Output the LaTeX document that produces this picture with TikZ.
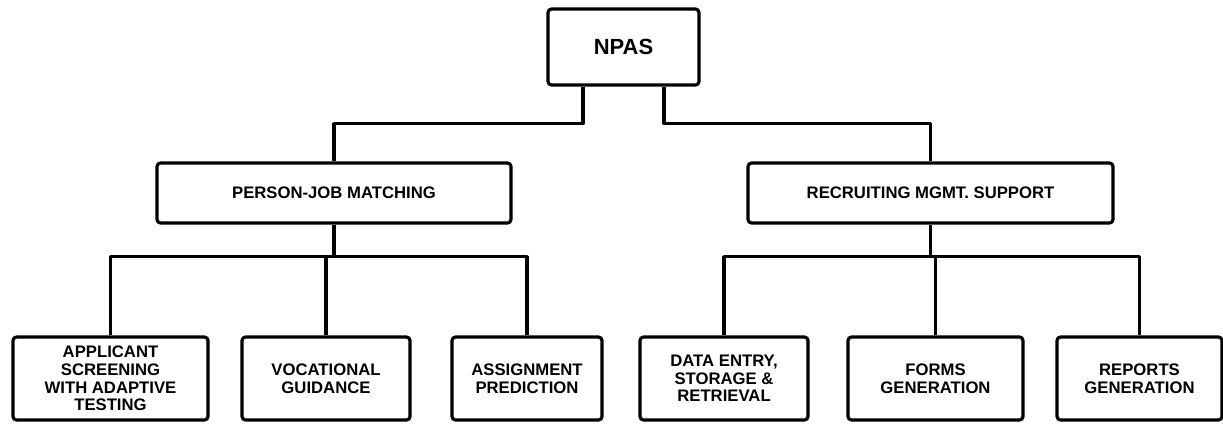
\documentclass[tikz,border=0pt]{standalone}
\usepackage{fontspec}
\setmainfont{Liberation Sans}
\usetikzlibrary{positioning}

\begin{document}
\begin{tikzpicture}[
    box/.style={rectangle, draw, line width=1.8pt, rounded corners=2pt, align=center, inner sep=2pt,
        font=\bfseries\fontsize{9.5}{10}\selectfont},
    link/.style={line width=1.8pt, line join=round}
]
\useasboundingbox (0,0) rectangle (24.46,-8.46);

% Top
\node[box, minimum width=3.02cm, minimum height=1.52cm, font=\bfseries\fontsize{12.5}{14}\selectfont] (npas) at (12.47,-0.94) {NPAS};

% Second level
\node[box, minimum width=7.08cm, minimum height=1.2cm] (pj) at (6.68,-3.86) {PERSON-JOB MATCHING};
\node[box, minimum width=7.3cm, minimum height=1.2cm] (rm) at (18.61,-3.86) {RECRUITING MGMT. SUPPORT};

% Third level
\node[box, minimum width=3.9cm, minimum height=1.66cm] (app) at (2.21,-7.57) {APPLICANT\\SCREENING\\WITH ADAPTIVE\\TESTING};
\node[box, minimum width=3.36cm, minimum height=1.66cm] (voc) at (6.52,-7.57) {VOCATIONAL\\GUIDANCE};
\node[box, minimum width=3.0cm, minimum height=1.66cm] (asg) at (10.54,-7.57) {ASSIGNMENT\\PREDICTION};
\node[box, minimum width=3.36cm, minimum height=1.66cm] (dat) at (14.48,-7.57) {DATA ENTRY,\\STORAGE \&\\RETRIEVAL};
\node[box, minimum width=3.5cm, minimum height=1.66cm] (frm) at (18.71,-7.57) {FORMS\\GENERATION};
\node[box, minimum width=3.3cm, minimum height=1.66cm] (rep) at (22.79,-7.57) {REPORTS\\GENERATION};

% Connectors
\draw[link] ([xshift=-0.81cm]npas.south) -- ++(0,-0.74) -| (pj.north);
\draw[link] ([xshift=0.81cm]npas.south) -- ++(0,-0.74) -| (rm.north);
\foreach \c in {app,voc,asg}
    \draw[link] (pj.south) -- ++(0,-0.64) -| (\c.north);
\foreach \c in {dat,frm,rep}
    \draw[link] (rm.south) -- ++(0,-0.64) -| (\c.north);

\end{tikzpicture}
\end{document}
